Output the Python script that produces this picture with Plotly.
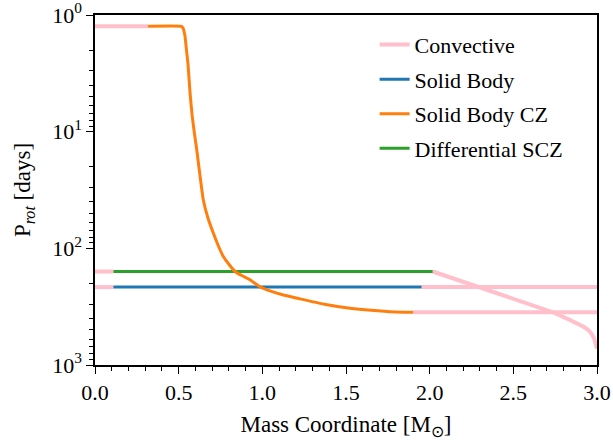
import plotly.graph_objects as go

# ---- data ----
conv_m = [0.0, 0.317, None, 0.0, 0.11, None, 0.0, 0.11, None,
          1.902, 3.0, None, 1.952, 3.0, None,
          2.018, 2.30, 2.5, 2.737, 2.82, 2.879, 2.92, 2.948, 2.968, 2.982, 2.992, 3.0]
conv_p = [1.248, 1.248, None, 158, 158, None, 215, 215, None,
          353, 353, None, 215, 215, None,
          158, 215, 271, 353, 400, 439, 470, 501, 540, 590, 650, 725]

sb_m = [0.11, 1.952]
sb_p = [215, 215]

sbcz_m = [0.317, 0.512, 0.520, 0.527, 0.533, 0.538, 0.546, 0.556, 0.568, 0.580, 0.594,
          0.608, 0.627, 0.647, 0.675, 0.707, 0.737, 0.767, 0.800, 0.837, 0.880,
          0.926, 0.986, 1.05, 1.12, 1.225, 1.37, 1.524, 1.65, 1.763, 1.902]
sbcz_p = [1.248, 1.248, 1.26, 1.30, 1.40, 1.52, 1.95, 2.66, 4.65, 7.15, 10.3,
          14.3, 23.5, 38.3, 55, 74, 95, 117.6, 137, 158, 172,
          186, 214, 233, 250, 271, 301, 326, 340, 349, 353]

dscz_m = [0.11, 2.018]
dscz_p = [158, 158]

x_ticks = [0.0, 0.5, 1.0, 1.5, 2.0, 2.5, 3.0]
y_ticks = [1, 10, 100, 1000]
y_ticktext = ["10<sup>0</sup>", "10<sup>1</sup>", "10<sup>2</sup>", "10<sup>3</sup>"]
y_minor = [k * 10 ** d for d in range(3) for k in range(2, 10)]
x_minor = [i / 10 for i in range(31)]

FONT = "Liberation Serif, Times New Roman, serif"
FS = 22

fig = go.Figure()
fig.add_trace(go.Scatter(x=conv_m, y=conv_p, mode="lines", name="Convective",
                         line=dict(color="#FFC0CB", width=4), connectgaps=False,
                         legendrank=1, legendgroup="a"))
fig.add_trace(go.Scatter(x=sb_m, y=sb_p, mode="lines", name="Solid Body",
                         line=dict(color="#1f77b4", width=3), legendrank=2, legendgroup="b"))
fig.add_trace(go.Scatter(x=dscz_m, y=dscz_p, mode="lines", name="Differential SCZ",
                         line=dict(color="#2ca02c", width=3), legendrank=4, legendgroup="d"))
fig.add_trace(go.Scatter(x=sbcz_m, y=sbcz_p, mode="lines", name="Solid Body CZ",
                         line=dict(color="#ff7f0e", width=3, shape="spline", smoothing=0.5),
                         legendrank=3, legendgroup="c"))

fig.update_layout(
    width=613, height=440,
    margin=dict(l=95, r=16, t=15, b=75),
    paper_bgcolor="white", plot_bgcolor="white",
    font=dict(family=FONT, size=FS, color="black"),
    showlegend=True,
    legend=dict(x=0.557, y=0.975, xanchor="left", yanchor="top",
                bgcolor="rgba(255,255,255,0)", borderwidth=0,
                font=dict(family=FONT, size=FS), tracegroupgap=3),
    xaxis=dict(range=[0, 3], tickvals=x_ticks, ticktext=[f"{v:.1f}" for v in x_ticks],
               automargin=False,
               showgrid=False, zeroline=False, showline=True, linecolor="black",
               linewidth=1.5, mirror=True, ticks="outside", ticklen=7, tickwidth=1.3,
               tickcolor="black", tickfont=dict(family=FONT, size=FS),
               ticklabeloverflow="allow",
               minor=dict(tickvals=x_minor, ticks="outside", ticklen=4, tickwidth=1,
                          tickcolor="black", showgrid=False),
               title=dict(text="Mass Coordinate [M<sub>⊙</sub>]",
                          font=dict(family=FONT, size=23))),
    yaxis=dict(type="log", range=[3, 0], tickvals=y_ticks, ticktext=y_ticktext,
               automargin=False,
               showgrid=False, zeroline=False, showline=True, linecolor="black",
               linewidth=1.5, mirror=True, ticks="outside", ticklen=7, tickwidth=1.3,
               tickcolor="black", tickfont=dict(family=FONT, size=FS),
               ticklabeloverflow="allow",
               minor=dict(tickvals=y_minor, ticks="outside", ticklen=4, tickwidth=1,
                          tickcolor="black", showgrid=False),
               title=dict(text="P<sub><i>rot</i></sub> [days]",
                          font=dict(family=FONT, size=23))),
)

fig.write_html("out.html")
